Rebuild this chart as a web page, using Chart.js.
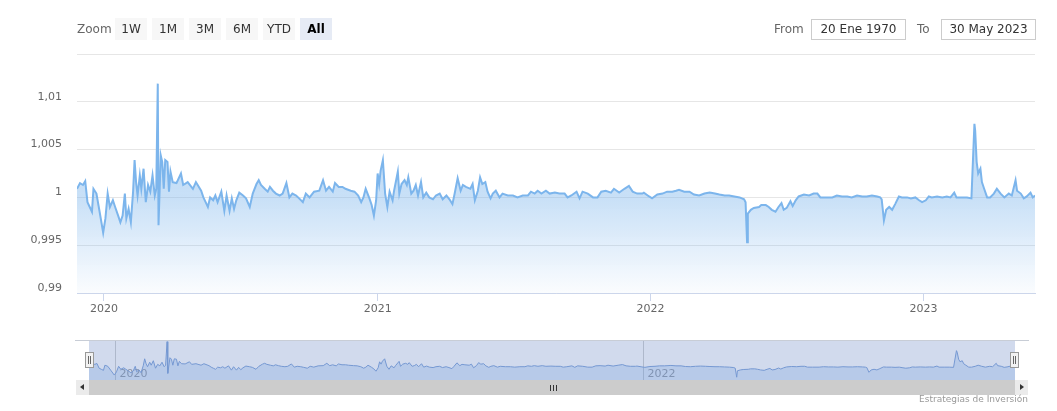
<!DOCTYPE html>
<html><head><meta charset="utf-8">
<script src="https://cdn.jsdelivr.net/npm/chart.js@4.4.1/dist/chart.umd.min.js"></script>
<style>
html,body{margin:0;padding:0;background:#fff;width:1057px;height:411px;overflow:hidden;font-family:"DejaVu Sans",sans-serif;}
#main{position:absolute;left:0;top:0;width:1057px;height:330px;}
#nav{position:absolute;left:89px;top:341px;width:926px;height:39px;}
.lbl{position:absolute;color:#666;font-size:12px;line-height:22px;top:18px;}
.btn{position:absolute;top:18px;width:32px;height:22px;line-height:22px;text-align:center;background:#f7f7f7;color:#333;font-size:12px;}
.btn.sel{background:#e6ebf5;font-weight:bold;color:#000;}
.inp{position:absolute;top:19px;width:93px;height:19px;line-height:19px;border:1px solid #ccc;text-align:center;color:#333;font-size:12px;}
#outline{position:absolute;left:75px;top:340px;width:954px;height:0;border-top:1px solid #c8cdd6;}
.sbbtn{position:absolute;top:380px;width:13px;height:15px;background:#ebebeb;}
#thumb{position:absolute;left:89px;top:380px;width:926px;height:15px;background:#cccccc;}
.rifle{position:absolute;top:385px;width:1px;height:6px;background:#333;}
.handle{position:absolute;top:352px;width:7px;height:14px;background:#f2f2f2;border:1px solid #999;}
.handle i{position:absolute;top:3px;width:1px;height:8px;background:#666;}
#credits{position:absolute;right:29px;top:394px;font-size:9px;color:#999;}
</style>
</head><body>
<div id="main"><canvas id="c1"></canvas></div>
<div id="outline"></div>
<div id="nav"><canvas id="c2"></canvas></div>
<div id="ui"></div>
<div class="sbbtn" style="left:76px"><div style="position:absolute;left:4px;top:4px;width:0;height:0;border-top:3px solid transparent;border-bottom:3px solid transparent;border-right:4px solid #333;"></div></div>
<div id="thumb"></div>
<div class="rifle" style="left:550px"></div><div class="rifle" style="left:553px"></div><div class="rifle" style="left:556px"></div>
<div class="sbbtn" style="left:1015px"><div style="position:absolute;left:5px;top:4px;width:0;height:0;border-top:3px solid transparent;border-bottom:3px solid transparent;border-left:4px solid #333;"></div></div>
<div class="handle" style="left:85px"><i style="left:2px"></i><i style="left:4px"></i></div>
<div class="handle" style="left:1010px"><i style="left:2px"></i><i style="left:4px"></i></div>
<div id="credits">Estrategias de Inversión</div>
<script>
const zoomButtons = ['1W','1M','3M','6M','YTD','All'];
const fromLabel = 'From', toLabel = 'To';
const fromDate = '20 Ene 1970', toDate = '30 May 2023';
const yearLabels = ['2020','2021','2022','2023'];
const navYearLabels = ['2020','2022'];
const yTickValues = [0.99, 0.995, 1, 1.005, 1.01, 1.015];

const dates = [
'2019-11-26','2019-11-30','2019-12-04','2019-12-07','2019-12-10','2019-12-13','2019-12-16','2019-12-18','2019-12-22','2019-12-26','2019-12-31',
'2020-01-03','2020-01-06','2020-01-09','2020-01-13','2020-01-16','2020-01-20','2020-01-23','2020-01-26','2020-01-29','2020-01-31',
'2020-02-03','2020-02-06','2020-02-09','2020-02-11','2020-02-13','2020-02-15','2020-02-18','2020-02-20','2020-02-23','2020-02-26','2020-02-29',
'2020-03-03','2020-03-06','2020-03-09','2020-03-11','2020-03-13','2020-03-14','2020-03-17','2020-03-19','2020-03-21','2020-03-23','2020-03-26','2020-03-28','2020-03-30',
'2020-04-02','2020-04-07','2020-04-13','2020-04-16','2020-04-22','2020-04-29',
'2020-05-03','2020-05-10','2020-05-13','2020-05-16','2020-05-19','2020-05-22','2020-05-26','2020-05-29',
'2020-06-01','2020-06-06','2020-06-10','2020-06-13','2020-06-17','2020-06-20','2020-06-23','2020-06-26','2020-06-30',
'2020-07-05','2020-07-09','2020-07-14','2020-07-18','2020-07-23','2020-07-26','2020-07-29',
'2020-08-03','2020-08-07','2020-08-10','2020-08-14','2020-08-18','2020-08-23','2020-08-27',
'2020-09-01','2020-09-05','2020-09-09','2020-09-14','2020-09-18','2020-09-23','2020-09-27',
'2020-10-02','2020-10-08','2020-10-15','2020-10-20','2020-10-24','2020-10-28',
'2020-11-02','2020-11-05','2020-11-10','2020-11-15','2020-11-19','2020-11-26',
'2020-12-01','2020-12-06','2020-12-10','2020-12-13','2020-12-16','2020-12-21','2020-12-24','2020-12-27','2020-12-30',
'2021-01-01','2021-01-03','2021-01-05','2021-01-08','2021-01-11','2021-01-14','2021-01-17','2021-01-21','2021-01-23','2021-01-28','2021-01-30',
'2021-02-02','2021-02-06','2021-02-09','2021-02-11','2021-02-15','2021-02-18','2021-02-21','2021-02-24','2021-02-28',
'2021-03-03','2021-03-07','2021-03-11','2021-03-16','2021-03-20','2021-03-25','2021-03-29',
'2021-04-03','2021-04-07','2021-04-11','2021-04-14','2021-04-18','2021-04-22','2021-04-25','2021-04-29',
'2021-05-05','2021-05-08','2021-05-11','2021-05-15','2021-05-18','2021-05-21','2021-05-25','2021-05-28',
'2021-06-01','2021-06-04','2021-06-08','2021-06-13','2021-06-17','2021-06-24',
'2021-07-01','2021-07-07','2021-07-14','2021-07-21','2021-07-25','2021-07-30',
'2021-08-03','2021-08-08','2021-08-14','2021-08-19','2021-08-26',
'2021-09-01','2021-09-08','2021-09-12','2021-09-17','2021-09-24','2021-09-28',
'2021-10-02','2021-10-09','2021-10-16','2021-10-22','2021-10-27',
'2021-11-02','2021-11-09','2021-11-13','2021-11-20','2021-11-27',
'2021-12-03','2021-12-08','2021-12-14','2021-12-21','2021-12-23','2021-12-30',
'2022-01-03','2022-01-10','2022-01-17','2022-01-23','2022-01-30',
'2022-02-04','2022-02-08','2022-02-15','2022-02-22','2022-02-28',
'2022-03-07','2022-03-14','2022-03-21','2022-03-28',
'2022-04-03','2022-04-10','2022-04-16','2022-04-23','2022-04-30',
'2022-05-06','2022-05-08','2022-05-10','2022-05-11','2022-05-15','2022-05-19','2022-05-26','2022-05-29',
'2022-06-04','2022-06-08','2022-06-12','2022-06-17','2022-06-21','2022-06-25','2022-06-28',
'2022-07-02','2022-07-07','2022-07-10','2022-07-14','2022-07-18','2022-07-25',
'2022-08-01','2022-08-07','2022-08-12','2022-08-16','2022-08-23',
'2022-09-01','2022-09-07','2022-09-14','2022-09-21','2022-09-27',
'2022-10-04','2022-10-11','2022-10-17','2022-10-24','2022-10-31',
'2022-11-04','2022-11-06','2022-11-09','2022-11-12','2022-11-16','2022-11-20','2022-11-24','2022-11-29',
'2022-12-03','2022-12-10','2022-12-15','2022-12-21','2022-12-26','2022-12-30',
'2023-01-04','2023-01-08','2023-01-12','2023-01-19','2023-01-26',
'2023-02-01','2023-02-06','2023-02-11','2023-02-14','2023-02-21','2023-02-28',
'2023-03-06','2023-03-10','2023-03-11','2023-03-13','2023-03-15','2023-03-18','2023-03-20','2023-03-23','2023-03-27','2023-03-31',
'2023-04-05','2023-04-09','2023-04-14','2023-04-19','2023-04-25','2023-04-29',
'2023-05-04','2023-05-06','2023-05-11','2023-05-15','2023-05-19','2023-05-24','2023-05-27','2023-05-30'
];
const prices = [
1.0009,1.0015,1.0013,1.0017,0.9995,0.9990,0.9985,1.0009,1.0004,0.9986,0.9963,
0.9978,1.0004,0.9990,0.9997,0.9990,0.9981,0.9974,0.9981,1.0004,0.9978,
0.9988,0.9974,1.0006,1.0039,1.0016,1.0002,1.0023,1.0009,1.0030,0.9995,1.0013,
1.0006,1.0023,1.0002,1.0009,1.0119,0.9971,1.0044,1.0037,1.0009,1.0039,1.0037,1.0006,1.0027,
1.0016,1.0015,1.0025,1.0013,1.0016,1.0009,
1.0016,1.0007,1.0000,0.9995,0.9990,1.0000,0.9997,1.0002,
0.9995,1.0006,0.9986,1.0002,0.9986,0.9999,0.9988,0.9997,1.0005,
1.0002,0.9999,0.9990,1.0004,1.0014,1.0018,1.0013,
1.0009,1.0006,1.0011,1.0007,1.0004,1.0002,1.0004,
1.0015,1.0000,1.0004,1.0002,0.9999,0.9995,1.0004,
1.0000,1.0006,1.0007,1.0018,1.0007,1.0011,
1.0006,1.0015,1.0011,1.0011,1.0009,1.0007,
1.0006,1.0002,0.9995,1.0000,1.0009,0.9999,0.9992,0.9981,0.9997,
1.0025,1.0014,1.0028,1.0039,1.0004,0.9990,1.0006,0.9997,1.0007,1.0027,1.0004,
1.0014,1.0018,1.0013,1.0021,1.0004,1.0007,1.0013,1.0002,1.0016,
1.0000,1.0005,1.0000,0.9998,1.0002,1.0004,0.9998,
1.0002,0.9998,0.9993,1.0004,1.0020,1.0007,1.0013,1.0011,
1.0009,1.0014,0.9997,1.0007,1.0021,1.0014,1.0016,1.0006,
0.9999,1.0004,1.0007,1.0000,1.0004,1.0002,
1.0002,1.0000,1.0002,1.0002,1.0006,1.0004,
1.0007,1.0004,1.0007,1.0004,1.0005,
1.0004,1.0004,1.0000,1.0002,1.0006,0.9999,
1.0006,1.0004,1.0000,1.0000,1.0006,
1.0007,1.0005,1.0009,1.0005,1.0009,
1.0012,1.0006,1.0004,1.0004,1.0005,1.0001,
0.9999,1.0003,1.0004,1.0006,1.0006,
1.0007,1.0008,1.0006,1.0006,1.0003,
1.0002,1.0004,1.0005,1.0004,
1.0003,1.0002,1.0002,1.0001,1.0000,
0.9998,0.9995,0.9953,0.9983,0.9987,0.9989,0.9990,0.9992,
0.9992,0.9990,0.9987,0.9985,0.9990,0.9994,0.9987,
0.9989,0.9996,0.9991,0.9997,1.0001,1.0003,
1.0002,1.0004,1.0004,1.0000,1.0000,
1.0000,1.0002,1.0001,1.0001,1.0000,
1.0002,1.0001,1.0001,1.0002,1.0001,
1.0000,0.9998,0.9976,0.9987,0.9990,0.9987,0.9993,1.0001,
1.0000,1.0000,0.9999,1.0000,0.9997,0.9995,
0.9997,1.0001,1.0000,1.0001,1.0000,
1.0001,1.0000,1.0005,1.0000,1.0000,1.0000,
0.9999,1.0077,1.0070,1.0037,1.0025,1.0030,1.0016,1.0009,1.0000,1.0000,
1.0004,1.0009,1.0004,1.0000,1.0004,1.0002,
1.0018,1.0007,1.0004,0.9999,1.0001,1.0005,1.0000,1.0002
];

// UI text
const ui = document.getElementById('ui');
function addEl(cls, left, text, extra){ const d=document.createElement('div'); d.className=cls; d.style.left=left+'px'; d.textContent=text; if(extra) Object.assign(d.style, extra); ui.appendChild(d); }
addEl('lbl', 77, 'Zoom');
zoomButtons.forEach((b,i)=> addEl('btn'+(b==='All'?' sel':''), 115+i*37, b));
addEl('lbl', 774, fromLabel);
addEl('inp', 811, fromDate);
addEl('lbl', 917, toLabel);
addEl('inp', 941, toDate);

const points = dates.map((d,i)=>({x: Date.parse(d), y: prices[i]}));
const xMin = Date.parse(dates[0]), xMax = Date.parse(dates[dates.length-1]);
const font = {family: '"DejaVu Sans", sans-serif', size: 11};

new Chart(document.getElementById('c1'), {
  type: 'line',
  data: { datasets: [{
    data: points,
    borderColor: '#7cb5ec',
    borderWidth: 2,
    pointRadius: 0,
    tension: 0,
    fill: 'start',
    backgroundColor: (ctx) => {
      const ch = ctx.chart, a = ch.chartArea;
      if (!a) return 'rgba(124,181,236,0.3)';
      const y = ch.scales.y;
      const top = y.getPixelForValue(1.012), bot = a.bottom, mid = y.getPixelForValue(1);
      const g = ch.ctx.createLinearGradient(0, top, 0, bot);
      g.addColorStop(0, 'rgba(124,181,236,0.55)');
      g.addColorStop((mid-top)/(bot-top), 'rgba(124,181,236,0.42)');
      g.addColorStop(1, 'rgba(124,181,236,0.03)');
      return g;
    }
  }]},
  options: {
    responsive: true, maintainAspectRatio: false, animation: false,
    layout: { padding: { top: 54, right: 22, bottom: 7, left: 0 } },
    plugins: { legend: { display: false }, tooltip: { enabled: false } },
    scales: {
      x: {
        type: 'linear', min: xMin, max: xMax,
        afterBuildTicks: (s) => { s.ticks = yearLabels.map(y => ({ value: Date.parse(y + '-01-01') })); },
        afterFit: (s) => { s.height = 30; },
        grid: { drawOnChartArea: false, drawTicks: true, tickLength: 8, color: '#ccd6eb' },
        border: { color: '#ccd6eb' },
        ticks: { autoSkip: false, maxRotation: 0, padding: 2, color: '#666', font,
          callback: (v) => String(new Date(v).getUTCFullYear()) }
      },
      y: {
        type: 'linear', min: 0.99, max: 1.015,
        afterBuildTicks: (s) => { s.ticks = yTickValues.map(v => ({ value: v })); },
        afterFit: (s) => { s.width = 77; },
        grid: { color: '#e6e6e6', drawTicks: false },
        border: { display: false },
        ticks: { padding: 15, labelOffset: -5, color: '#666', font,
          callback: (v) => v >= 1.0149 ? '' : String(Number(v.toFixed(3))).replace('.', ',') }
      }
    }
  }
});

const navPlugin = {
  id: 'navbg',
  beforeDatasetsDraw(chart) {
    const { ctx, chartArea: a, scales: { x } } = chart;
    ctx.save();
    ctx.fillStyle = 'rgba(102,133,194,0.3)';
    ctx.fillRect(a.left, a.top, a.right - a.left, a.bottom - a.top);
    ctx.font = '11px "DejaVu Sans", sans-serif';
    ctx.textBaseline = 'alphabetic';
    navYearLabels.forEach(yr => {
      const px = Math.round(x.getPixelForValue(Date.parse(yr + '-01-01'))) + 0.5;
      ctx.strokeStyle = 'rgba(110,120,140,0.35)';
      ctx.lineWidth = 1;
      ctx.beginPath(); ctx.moveTo(px, a.top); ctx.lineTo(px, a.bottom); ctx.stroke();
      ctx.fillStyle = '#8a93a6';
      ctx.fillText(yr, px + 4, a.bottom - 3);
    });
    ctx.restore();
  }
};

new Chart(document.getElementById('c2'), {
  type: 'line',
  data: { datasets: [{
    data: points,
    borderColor: '#7598d2',
    borderWidth: 1,
    pointRadius: 0,
    tension: 0,
    fill: 'start',
    backgroundColor: 'rgba(102,150,220,0.25)'
  }]},
  options: {
    responsive: true, maintainAspectRatio: false, animation: false,
    layout: { padding: 0 },
    plugins: { legend: { display: false }, tooltip: { enabled: false } },
    scales: {
      x: { type: 'linear', min: xMin, max: xMax, display: false },
      y: { type: 'linear', min: 0.994, max: 1.0122, display: false }
    }
  },
  plugins: [navPlugin]
});
</script>
</body></html>
